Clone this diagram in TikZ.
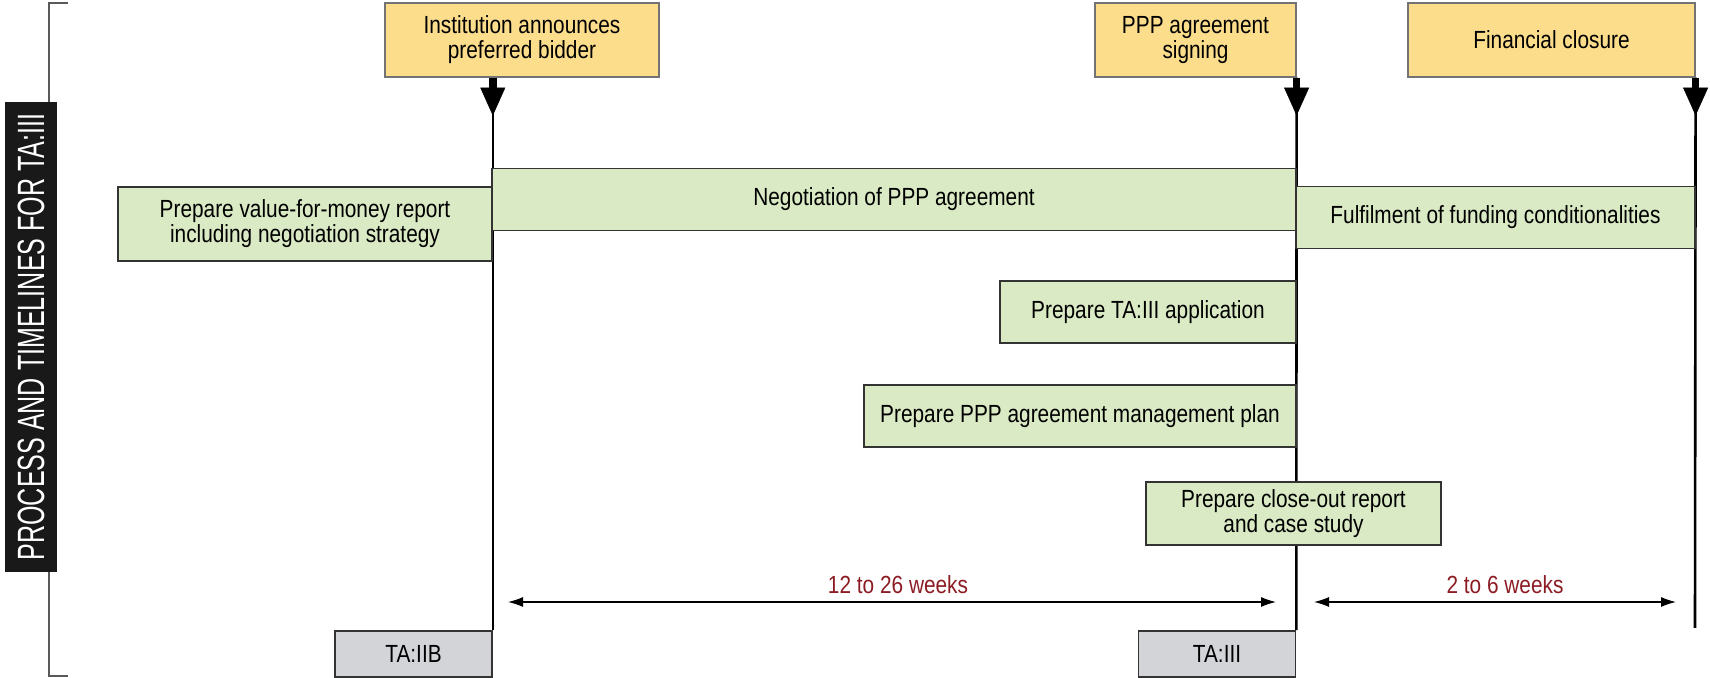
\documentclass[tikz,border=0pt]{standalone}
\usepackage{fontspec}
\setmainfont{Liberation Sans}[FakeStretch=0.84]
\newfontfamily\sidefont{Liberation Sans}[FakeStretch=0.66]
\usetikzlibrary{arrows.meta,backgrounds}
\definecolor{evyellow}{RGB}{252,221,140}
\definecolor{taskgreen}{RGB}{218,234,196}
\definecolor{phasegrey}{RGB}{210,212,216}
\definecolor{weekred}{RGB}{140,28,36}
\tikzset{
  event/.style={draw=black!55, fill=evyellow, line width=0.6pt, minimum height=37pt, align=center},
  task/.style={draw=black!80, fill=taskgreen, line width=0.8pt, minimum height=31pt, align=center},
  phase/.style={draw=black!80, fill=phasegrey, line width=0.8pt, minimum height=23pt, minimum width=78.5pt},
  timeline/.style={line width=1.3pt},
  marker/.style={line width=3.8pt, -{Triangle[width=12.5pt,length=14pt,line width=0.2pt]}},
  span/.style={line width=0.6pt, {Latex[length=7.5pt,width=5pt]}-{Latex[length=7.5pt,width=5pt]}},
  weeks/.style={text=weekred}
}
\begin{document}
\begin{tikzpicture}[x=0.5pt,y=-0.5pt,
  every node/.style={font=\fontsize{12.4}{12.5}\selectfont, inner sep=0pt}]
\useasboundingbox (0,0) rectangle (1710,678);

\draw[black!65, line width=0.8pt] (68,3) -- (49,3) -- (49,676) -- (68,676);
\node[fill=black!90, text=white, rotate=90, minimum width=235pt, minimum height=26pt,
  font=\sidefont\fontsize{19}{19}\selectfont] (side) at (31,337) {PROCESS AND TIMELINES FOR TA:III};

\node[event, minimum width=137pt] (ev1) at (522,40) {Institution announces\\preferred bidder};
\node[event, minimum width=100.5pt] (ev2) at (1195.5,40) {PPP agreement\\signing};
\node[event, minimum width=143.5pt] (ev3) at (1551.5,40) {Financial closure};

\node[task, minimum width=187pt, minimum height=37pt] (vfm) at (305,224) {Prepare value-for-money report\\including negotiation strategy};
\node[task, minimum width=402pt] (nego) at (894,199.5) {Negotiation of PPP agreement};
\node[task, minimum width=199.5pt] (fund) at (1495.5,217.5) {Fulfilment of funding conditionalities};
\node[task, minimum width=148pt] (app) at (1148,312) {Prepare TA:III application};
\node[task, minimum width=216pt] (plan) at (1080,416) {Prepare PPP agreement management plan};
\node[task, minimum width=147.5pt, minimum height=31.5pt] (close) at (1293.5,513.5) {Prepare close-out report\\and case study};

\node[phase] (tb) at (413.5,654) {TA:IIB};
\node[phase] (t3) at (1217,654) {TA:III};
\coordinate (end3) at (1695,628);

\begin{scope}[on background layer]
\draw[timeline] (ev1.south -| tb.north east) -- (tb.north east);
\draw[timeline] (ev2.south east) -- (t3.north east);
\draw[timeline] (ev3.south east) -- (end3);
\end{scope}

\draw[marker] (ev1.south -| tb.north east) -- ++(0,38);
\draw[marker] (ev2.south east) -- ++(0,38);
\draw[marker] (ev3.south east) -- ++(0,38);

\node[weeks] (wk1) at (898,585) {12 to 26 weeks};
\node[weeks] (wk2) at (1505,585) {2 to 6 weeks};
\coordinate (a1) at (508,602);
\coordinate (b1) at (1276,602);
\coordinate (a2) at (1314,602);
\coordinate (b2) at (1676,602);
\draw[span] (a1) -- (b1);
\draw[span] (a2) -- (b2);
\end{tikzpicture}
\end{document}
